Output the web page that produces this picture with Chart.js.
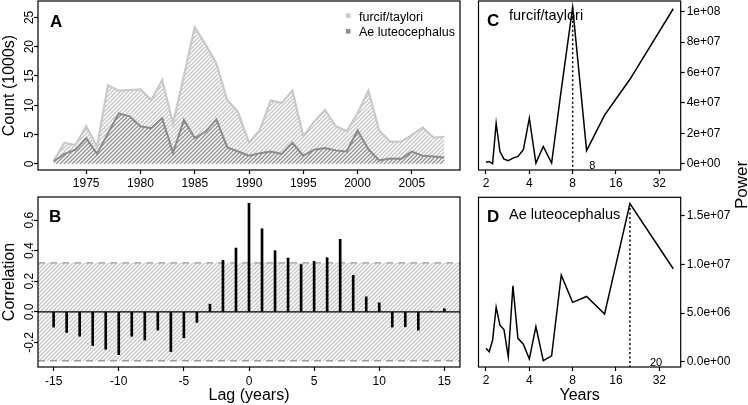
<!DOCTYPE html>
<html><head><meta charset="utf-8">
<script src="https://cdn.jsdelivr.net/npm/chart.js@4.4.1/dist/chart.umd.min.js"></script>
<style>
html,body{margin:0;padding:0;background:#fff;}
#wrap{position:relative;width:748px;height:405px;overflow:hidden;background:#fff;}
canvas{position:absolute;left:0;top:0;width:748px;height:405px;}
</style></head><body>
<div id="wrap">
<canvas id="cA" width="748" height="405"></canvas>
<canvas id="cB" width="748" height="405"></canvas>
<canvas id="cC" width="748" height="405"></canvas>
<canvas id="cD" width="748" height="405"></canvas>
</div>
<script>
// ---------- DATA ----------
const YEARS = [1972,1973,1974,1975,1976,1977,1978,1979,1980,1981,1982,1983,1984,1985,1986,1987,1988,1989,1990,
  1991,1992,1993,1994,1995,1996,1997,1998,1999,2000,2001,2002,2003,2004,2005,2006,2007,2008];
const FURCIF = [0.5,3.6,3.2,6.4,2.9,13.4,12.5,12.6,12.7,10.9,14.3,6.9,15.0,23.3,20.4,17.1,10.9,8.8,3.6,
  5.8,10.8,10.4,12.5,4.7,7.2,9.2,6.4,5.6,8.6,12.5,5.7,3.8,3.8,4.9,6.2,4.5,4.6];
const LUTEO = [0.4,1.7,2.4,4.4,1.7,5.2,8.6,8.1,6.4,6.1,7.8,1.9,7.5,4.4,5.5,7.6,2.8,2.1,1.4,
  1.8,2.1,1.7,3.6,1.4,2.4,2.7,2.3,2.1,5.7,2.5,0.6,0.9,0.85,2.1,1.4,1.25,1.1];
const SERIES_NAMES = ['furcif/taylori','Ae luteocephalus'];

const LAGS = [-15,-14,-13,-12,-11,-10,-9,-8,-7,-6,-5,-4,-3,-2,-1,0,1,2,3,4,5,6,7,8,9,10,11,12,13,14,15];
const CORR = [-0.10,-0.135,-0.16,-0.22,-0.245,-0.28,-0.16,-0.185,-0.12,-0.26,-0.17,-0.07,0.05,0.337,0.417,
  0.71,0.543,0.40,0.352,0.309,0.33,0.354,0.474,0.239,0.098,0.059,-0.10,-0.098,-0.12,0.005,0.02];
const CI_BOUND = 0.32;

const PERIODS = [2,2.105,2.222,2.353,2.5,2.667,2.857,3.077,3.333,3.636,4,4.444,5,5.714,6.667,8,10,13.333,20,40];
const C_POWER = [1.0e6,1.5e6,0,2.67e7,8.0e6,3.0e6,2.0e6,3.7e6,4.8e6,9.2e6,3.0e7,0.5e6,1.14e7,0.5e6,4.86e7,
  1.03e8,8.7e6,3.2e7,5.56e7,1.02e8];
const D_POWER = [1.37e6,1.02e6,2.2e6,5.6e6,3.75e6,3.3e6,0.5e6,7.8e6,2.4e6,1.8e6,0.28e6,3.6e6,0.1e6,0.6e6,8.9e6,
  6.1e6,6.7e6,4.9e6,1.625e7,9.55e6];
const C_PEAK = 8, D_PEAK = 20;

const A_XTICKS = [1975,1980,1985,1990,1995,2000,2005];
const A_YTICKS = [0,5,10,15,20,25];
const B_XTICKS = [-15,-10,-5,0,5,10,15];
const B_YTICKS = [-0.2,0,0.2,0.4,0.6];
const B_YLABELS = ['-0.2','0.0','0.2','0.4','0.6'];
const CD_XTICKS = [2,4,8,16,32];
const C_YTICKS = [0,2e7,4e7,6e7,8e7,1e8];
const C_YLABELS = ['0e+00','2e+07','4e+07','6e+07','8e+07','1e+08'];
const D_YTICKS = [0,5e6,1e7,1.5e7];
const D_YLABELS = ['0.0e+00','5.0e+06','1.0e+07','1.5e+07'];

// ---------- STYLE ----------
const FONT = "'Liberation Sans', Arial, Helvetica, sans-serif";
Chart.defaults.font.family = FONT;
Chart.defaults.font.size = 12;
Chart.defaults.color = '#000';

function hatch(ctx, stripe, lw, size) {
  const c = document.createElement('canvas');
  c.width = size; c.height = size;
  const g = c.getContext('2d');
  g.fillStyle = '#fff'; g.fillRect(0, 0, size, size);
  g.strokeStyle = stripe; g.lineWidth = lw;
  g.beginPath();
  g.moveTo(0, size); g.lineTo(size, 0);
  g.moveTo(-size/2, size/2); g.lineTo(size/2, -size/2);
  g.moveTo(size/2, size*1.5); g.lineTo(size*1.5, size/2);
  g.stroke();
  return ctx.createPattern(c, 'repeat');
}

function fitter(w, h) {
  return (s) => {
    if (w != null) s.width = w;
    if (h != null) s.height = h;
    s.paddingTop = 0; s.paddingBottom = 0; s.paddingLeft = 0; s.paddingRight = 0;
  };
}
function setTicks(arr) { return (s) => { s.ticks = arr.map(v => ({ value: v })); }; }
const gridOpt = { drawOnChartArea: false, drawTicks: true, tickLength: 4, tickColor: '#000', tickWidth: 1.2, offset: false };

function txt(ctx, s, x, y, font, align, rot) {
  ctx.save();
  ctx.font = font; ctx.fillStyle = '#000';
  ctx.textAlign = align || 'left'; ctx.textBaseline = 'alphabetic';
  ctx.translate(x, y);
  if (rot) ctx.rotate(rot);
  ctx.fillText(s, 0, 0);
  ctx.restore();
}
const boxPlugin = {
  id: 'box',
  afterDraw(chart) {
    const { ctx, chartArea: a } = chart;
    ctx.save();
    ctx.strokeStyle = '#000'; ctx.lineWidth = 1.2;
    ctx.strokeRect(a.left, a.top, a.right - a.left, a.bottom - a.top);
    ctx.restore();
  }
};
function rotTicks(chart, ticks, labels) {
  const ys = chart.scales.y;
  ticks.forEach((v, i) => {
    txt(chart.ctx, labels ? labels[i] : String(v), 33, ys.getPixelForValue(v), '12px ' + FONT, 'center', -Math.PI / 2);
  });
}
const common = { responsive: false, animation: false, events: [],
  plugins: { legend: { display: false }, tooltip: { enabled: false } } };

// ---------- PANEL A ----------
const ctxA = document.getElementById('cA').getContext('2d');
new Chart(ctxA, {
  type: 'line',
  data: { datasets: [
    { label: SERIES_NAMES[1], data: YEARS.map((y, i) => ({ x: y, y: LUTEO[i] })), borderColor: '#8c8c8c',
      borderWidth: 2, backgroundColor: hatch(ctxA, '#8e8e8e', 1.3, 4), fill: 'origin', pointRadius: 0, tension: 0, order: 1 },
    { label: SERIES_NAMES[0], data: YEARS.map((y, i) => ({ x: y, y: FURCIF[i] })), borderColor: '#c9c9c9',
      borderWidth: 2.2, backgroundColor: hatch(ctxA, '#c6c6c6', 1.3, 4), fill: 'origin', pointRadius: 0, tension: 0, order: 2 }
  ]},
  options: Object.assign({}, common, {
    layout: { padding: { left: 0, top: 1, right: 288, bottom: 215 } },
    scales: {
      x: { type: 'linear', min: 1970.56, max: 2009.44, offset: false, afterBuildTicks: setTicks(A_XTICKS), afterFit: fitter(null, 20),
           grid: gridOpt, border: { display: false }, ticks: { padding: 2.5, maxRotation: 0, autoSkip: false, callback: v => String(v) } },
      y: { type: 'linear', min: -1.05, max: 27.8, afterBuildTicks: setTicks(A_YTICKS), afterFit: fitter(38, null),
           grid: gridOpt, border: { display: false }, ticks: { display: false } }
    }
  }),
  plugins: [boxPlugin, { id: 'txtA', afterDraw(chart) {
    const ctx = chart.ctx, a = chart.chartArea;
    rotTicks(chart, A_YTICKS);
    txt(ctx, 'Count (1000s)', 14, (a.top + a.bottom) / 2, '16px ' + FONT, 'center', -Math.PI / 2);
    txt(ctx, 'A', 50, 27, 'bold 17px ' + FONT, 'left');
    ctx.save();
    ctx.fillStyle = '#c9c9c9'; ctx.fillRect(346, 13.3, 4.5, 4.5);
    ctx.fillStyle = '#8c8c8c'; ctx.fillRect(346, 29.1, 4.5, 4.5);
    ctx.restore();
    txt(ctx, SERIES_NAMES[0], 359, 20.5, '12.5px ' + FONT, 'left');
    txt(ctx, SERIES_NAMES[1], 359, 35.5, '12.5px ' + FONT, 'left');
  }}]
});

// ---------- PANEL B ----------
const ctxB = document.getElementById('cB').getContext('2d');
const B_XMIN = -16.2, B_XMAX = 16.2;
new Chart(ctxB, {
  type: 'line',
  data: { datasets: [
    { type: 'line', data: [{ x: B_XMIN, y: CI_BOUND }, { x: B_XMAX, y: CI_BOUND }], borderColor: '#9c9c9c', borderWidth: 1.4,
      borderDash: [7, 5], backgroundColor: hatch(ctxB, '#c6c6c6', 1.3, 4), fill: '+1', pointRadius: 0, order: 4 },
    { type: 'line', data: [{ x: B_XMIN, y: -CI_BOUND }, { x: B_XMAX, y: -CI_BOUND }], borderColor: '#9c9c9c', borderWidth: 1.4,
      borderDash: [7, 5], fill: false, pointRadius: 0, order: 3 },
    { type: 'line', data: [{ x: B_XMIN, y: 0 }, { x: B_XMAX, y: 0 }], borderColor: '#000', borderWidth: 1.3,
      fill: false, pointRadius: 0, order: 2 },
    { type: 'bar', data: LAGS.map((l, i) => ({ x: l, y: CORR[i] })), backgroundColor: '#000', borderWidth: 0,
      barThickness: 2, grouped: false, order: 1 }
  ]},
  options: Object.assign({}, common, {
    layout: { padding: { left: 0, top: 197, right: 288, bottom: 18 } },
    scales: {
      x: { type: 'linear', min: B_XMIN, max: B_XMAX, offset: false, afterBuildTicks: setTicks(B_XTICKS), afterFit: fitter(null, 20),
           grid: gridOpt, border: { display: false }, ticks: { padding: 3.5, maxRotation: 0, autoSkip: false, callback: v => String(v) } },
      y: { type: 'linear', min: -0.361, max: 0.751, afterBuildTicks: setTicks(B_YTICKS), afterFit: fitter(38, null),
           grid: gridOpt, border: { display: false }, ticks: { display: false } }
    }
  }),
  plugins: [boxPlugin, { id: 'txtB', afterDraw(chart) {
    const ctx = chart.ctx, a = chart.chartArea;
    rotTicks(chart, B_YTICKS, B_YLABELS);
    txt(ctx, 'Correlation', 14, (a.top + a.bottom) / 2, '16px ' + FONT, 'center', -Math.PI / 2);
    txt(ctx, 'Lag (years)', (a.left + a.right) / 2, 400, '16px ' + FONT, 'center');
    txt(ctx, 'B', 49, 222, 'bold 17px ' + FONT, 'left');
  }}]
});

// ---------- PANELS C & D ----------
function spectrum(canvasId, power, peak, ymin, ymax, yticks, ylabels, top, bottom, letter, name, peakDx, extra) {
  const ctx = document.getElementById(canvasId).getContext('2d');
  const peakPow = power[PERIODS.indexOf(peak)];
  new Chart(ctx, {
    type: 'line',
    data: { datasets: [
      { data: PERIODS.map((p, i) => ({ x: p, y: power[i] })), borderColor: '#000', borderWidth: 1.5,
        fill: false, pointRadius: 0, tension: 0 },
      { data: [{ x: peak, y: peakPow }, { x: peak, y: ymin }], borderColor: '#000', borderWidth: 1.5,
        borderDash: [2, 2.5], fill: false, pointRadius: 0 }
    ]},
    options: Object.assign({}, common, {
      layout: { padding: { left: 478.5, top: top, right: 0, bottom: 405 - bottom - 20 } },
      scales: {
        x: { type: 'logarithmic', min: 1.774, max: 45.06, afterBuildTicks: setTicks(CD_XTICKS), afterFit: fitter(null, 20),
             grid: gridOpt, border: { display: false }, ticks: { padding: 2.5, maxRotation: 0, autoSkip: false, callback: (v, i) => String(CD_XTICKS[i]) } },
        y: { type: 'linear', position: 'right', min: ymin, max: ymax, afterBuildTicks: setTicks(yticks), afterFit: fitter(67.3, null),
             grid: gridOpt, border: { display: false }, ticks: { padding: 2, autoSkip: false, callback: (v, i) => ylabels[i] } }
      }
    }),
    plugins: [boxPlugin, { id: 'txt' + letter, afterDraw(chart) {
      const c = chart.ctx, a = chart.chartArea;
      txt(c, letter, 487, a.top + 25, 'bold 17px ' + FONT, 'left');
      txt(c, name, 509, a.top + (letter === 'C' ? 18.5 : 21.2), '14.5px ' + FONT, 'left');
      txt(c, String(peak), chart.scales.x.getPixelForValue(peak) + peakDx, a.bottom - 1.5, '11px ' + FONT, 'left');
      if (extra) extra(c, a);
    }}]
  });
}
spectrum('cC', C_POWER, C_PEAK, -0.041e8, 1.071e8, C_YTICKS, C_YLABELS, 1, 170, 'C', SERIES_NAMES[0], 16.5, null);
spectrum('cD', D_POWER, D_PEAK, -0.055e7, 1.69e7, D_YTICKS, D_YLABELS, 197.3, 367, 'D', SERIES_NAMES[1], 20, (c, a) => {
  txt(c, 'Years', (a.left + a.right) / 2, 400, '16px ' + FONT, 'center');
  txt(c, 'Power', 747, 185, '17px ' + FONT, 'center', -Math.PI / 2);
});
</script>
</body></html>
